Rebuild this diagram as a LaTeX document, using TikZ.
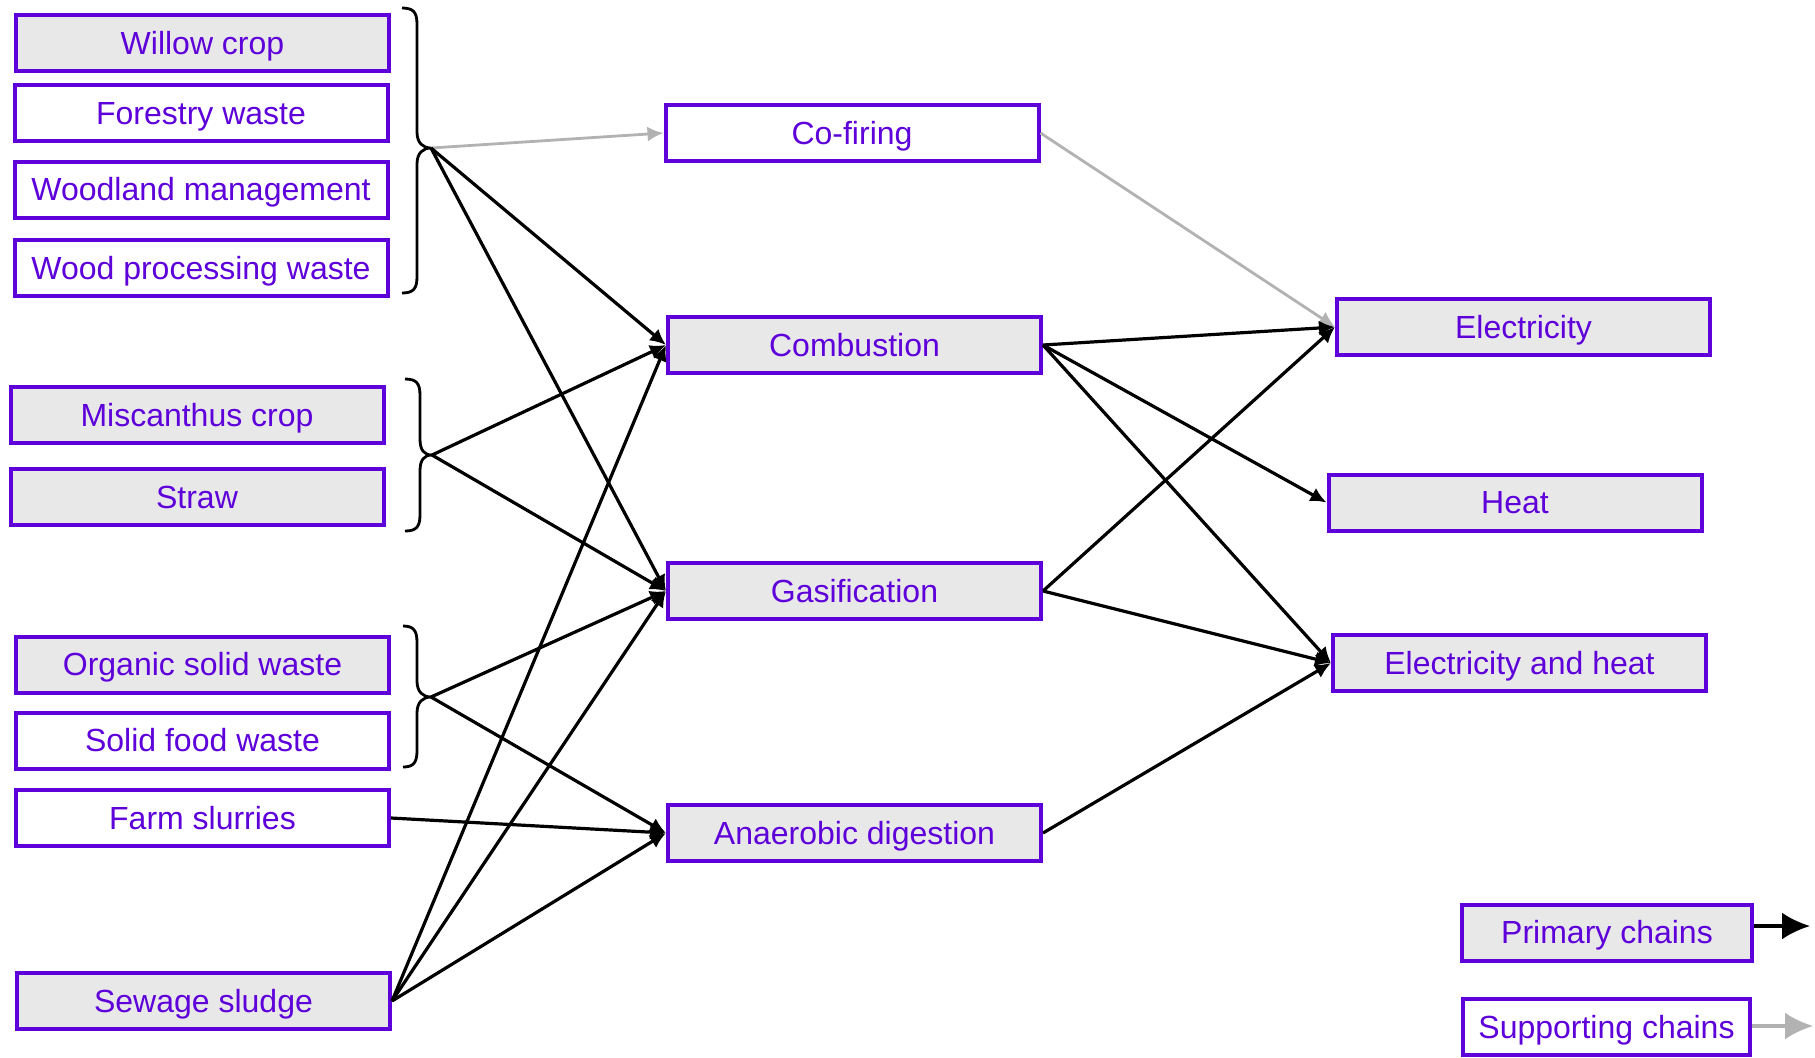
\documentclass[tikz,border=0pt]{standalone}
\usepackage{fontspec}
\setmainfont{Liberation Sans}
\usetikzlibrary{arrows.meta}
\definecolor{purp}{RGB}{94,0,218}
\definecolor{lgray}{RGB}{232,232,232}
\definecolor{sgray}{RGB}{178,178,178}
\newcommand\drawbrace[6]{% xleft xspine xtip ytop ytip ybot
  \draw[bracestyle] (#1,#4) .. controls (#2-4,#4) and (#2,#4+4) .. (#2,#4+16)
    -- (#2,#5-16) .. controls (#2,#5-5) and (#3-8,#5) .. (#3,#5)
    .. controls (#3-8,#5) and (#2,#5+5) .. (#2,#5+16)
    -- (#2,#6-16) .. controls (#2,#6-4) and (#2-4,#6) .. (#1,#6);}
\tikzset{
  box/.style={draw=purp, line width=2pt, minimum width=186.5pt, minimum height=28pt,
    inner sep=0pt, text=purp, font=\fontsize{16}{19}\selectfont,
    text height=11pt, text depth=0pt},
  gbox/.style={box, fill=lgray},
  wbox/.style={box, fill=white},
  bracestyle/.style={line width=1.4pt, black},
  parr/.style={line width=1.6pt, black, -{Latex[length=8pt,width=7.5pt]}},
  sarr/.style={line width=1.4pt, sgray, -{Latex[length=8pt,width=7.5pt]}},
  plegarr/.style={line width=1.7pt, black, -{Latex[length=14pt,width=13.5pt]}},
  slegarr/.style={line width=1.7pt, sgray, -{Latex[length=14pt,width=13.5pt]}},
}
\begin{document}
\begin{tikzpicture}[x=0.5pt,y=-0.5pt]
\useasboundingbox (0,0) rectangle (1815,1057);
% left column
\node[gbox] (willow) at (202.5,43) {Willow crop};
\node[wbox] (forestry) at (201,113) {Forestry waste};
\node[wbox] (woodland) at (201,189.5) {Woodland management};
\node[wbox] (woodproc) at (201,268) {Wood processing waste};
\node[gbox] (misc) at (197,415) {Miscanthus crop};
\node[gbox] (straw) at (197,497) {Straw};
\node[gbox] (organic) at (202.5,664.5) {Organic solid waste};
\node[wbox] (food) at (202.5,740.5) {Solid food waste};
\node[wbox] (farm) at (202.5,818) {Farm slurries};
\node[gbox] (sewage) at (203.5,1001) {Sewage sludge};
% middle column
\node[wbox] (cofiring) at (852,133) {Co-firing};
\node[gbox] (comb) at (854.5,345) {Combustion};
\node[gbox] (gas) at (854.5,591) {Gasification};
\node[gbox] (ad) at (854.5,833) {Anaerobic digestion};
% right column
\node[gbox] (elec) at (1523.5,327) {Electricity};
\node[gbox] (heat) at (1515,502.5) {Heat};
\node[gbox] (eh) at (1519.5,663) {Electricity and heat};
% legend
\node[gbox, minimum width=145pt] (primary) at (1607,932.5) {Primary chains};
\node[wbox, minimum width=143.5pt] (supporting) at (1606.5,1027) {Supporting chains};
% braces
\drawbrace{402}{417}{431}{8}{148}{293}
\drawbrace{405}{420}{432}{379}{455}{531}
\drawbrace{403}{417}{431}{626}{697}{767}
\coordinate (b1) at (431,148);
\coordinate (b2) at (432,455);
\coordinate (b3) at (431,697);
% connectors
\draw[sarr] (b1) -- (cofiring.west);
\draw[parr] (b1) -- (comb.west);
\draw[parr] (b1) -- (gas.west);
\draw[parr] (b2) -- (comb.west);
\draw[parr] (b2) -- (gas.west);
\draw[parr] (b3) -- (gas.west);
\draw[parr] (b3) -- (ad.west);
\draw[parr] (farm.east) -- (ad.west);
\draw[parr] (sewage.east) -- (comb.west);
\draw[parr] (sewage.east) -- (gas.west);
\draw[parr] (sewage.east) -- (ad.west);
\draw[sarr] (cofiring.east) -- (elec.west);
\draw[parr] (comb.east) -- (elec.west);
\draw[parr] (comb.east) -- (heat.west);
\draw[parr] (comb.east) -- (eh.west);
\draw[parr] (gas.east) -- (elec.west);
\draw[parr] (gas.east) -- (eh.west);
\draw[parr] (ad.east) -- (eh.west);
% legend arrows
\coordinate (pa) at (1810,926);
\coordinate (sa) at (1813,1026);
\draw[plegarr] (primary.east |- pa) -- (pa);
\draw[slegarr] (supporting.east |- sa) -- (sa);
\end{tikzpicture}
\end{document}
